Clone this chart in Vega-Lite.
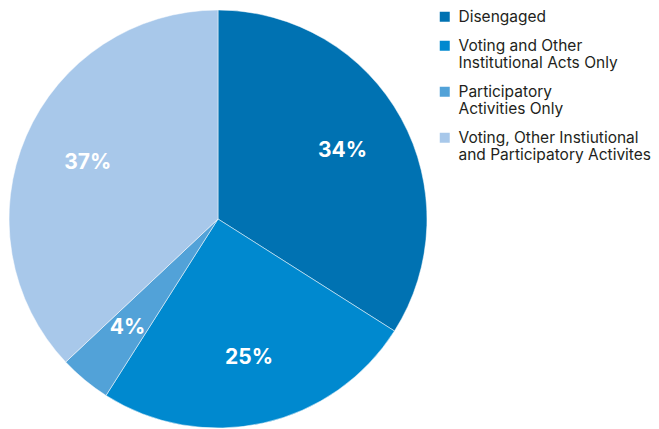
{
  "$schema": "https://vega.github.io/schema/vega-lite/v6.json",
  "width": 436,
  "height": 438,
  "padding": {"left": 0, "top": 0, "right": 0, "bottom": 0},
  "autosize": {"type": "pad"},
  "background": "white",
  "config": {"view": {"stroke": null}, "font": "Inter"},
  "data": {
    "values": [
      {"cat": "Disengaged", "order": 1, "pct": 34, "label": "34%"},
      {"cat": "Voting and Other Institutional Acts Only", "order": 2, "pct": 25, "label": "25%"},
      {"cat": "Participatory Activities Only", "order": 3, "pct": 4, "label": "4%"},
      {"cat": "Voting, Other Instiutional and Participatory Activites", "order": 4, "pct": 37, "label": "37%"}
    ]
  },
  "encoding": {
    "theta": {"field": "pct", "type": "quantitative", "stack": true},
    "order": {"field": "order", "type": "quantitative"},
    "color": {
      "field": "cat",
      "type": "nominal",
      "sort": ["Disengaged", "Voting and Other Institutional Acts Only", "Participatory Activities Only", "Voting, Other Instiutional and Participatory Activites"],
      "scale": {
        "domain": ["Disengaged", "Voting and Other Institutional Acts Only", "Participatory Activities Only", "Voting, Other Instiutional and Participatory Activites"],
        "range": ["#0072b2", "#0089cf", "#52a2d8", "#a8c8ea"]
      },
      "legend": {
        "title": null,
        "orient": "none",
        "legendX": 437,
        "legendY": 9,
        "padding": 0,
        "symbolType": "square",
        "symbolSize": 100,
        "symbolStrokeWidth": 0,
        "symbolOpacity": 1,
        "labelFontSize": 15.5,
        "labelLineHeight": 18,
        "labelColor": "#231f20",
        "labelLimit": 300,
        "labelOffset": 6,
        "rowPadding": 12,
        "labelExpr": "datum.label == 'Disengaged' ? 'Disengaged' : datum.label == 'Voting and Other Institutional Acts Only' ? ['Voting and Other', 'Institutional Acts Only'] : datum.label == 'Participatory Activities Only' ? ['Participatory', 'Activities Only'] : ['Voting, Other Instiutional', 'and Participatory Activites']"
      }
    }
  },
  "layer": [
    {"mark": {"type": "arc", "outerRadius": 209, "stroke": "white", "strokeWidth": 0.5}},
    {
      "mark": {"type": "text", "radius": 142, "fill": "white", "fontSize": 21, "fontWeight": "bold"},
      "encoding": {"text": {"field": "label"}, "color": {"value": "white"}}
    }
  ]
}
